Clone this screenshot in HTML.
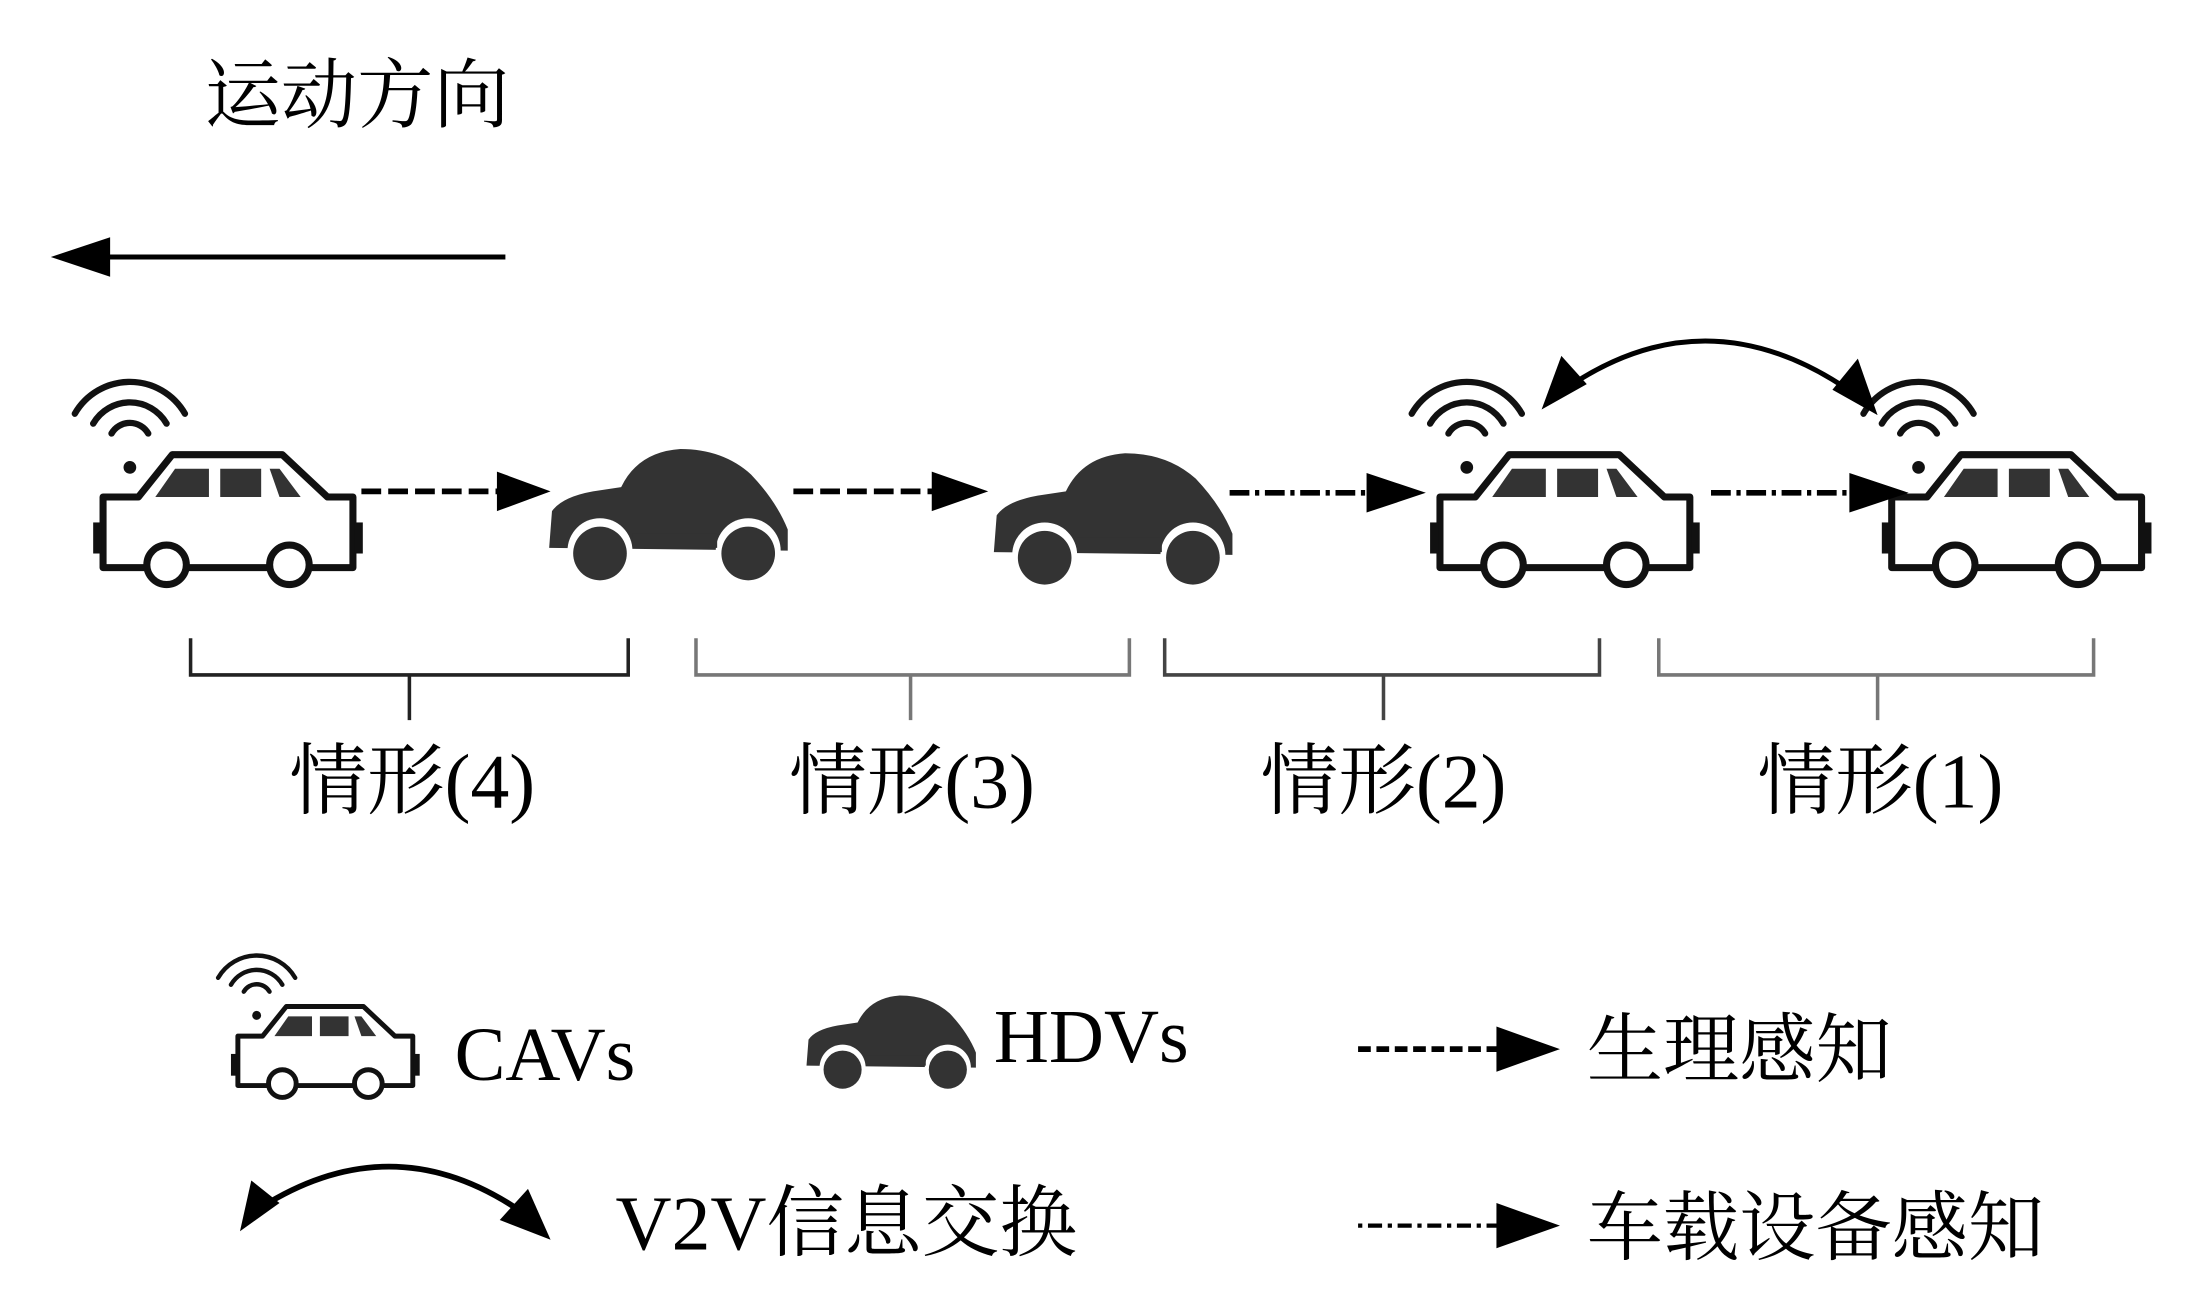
<!DOCTYPE html>
<html><head><meta charset="utf-8"><style>
html,body{margin:0;padding:0;background:#fff;width:2191px;height:1316px;overflow:hidden}
svg{display:block}
text{font-family:"Liberation Serif","Noto Serif CJK SC",serif;fill:#000}
</style></head><body>
<svg width="2191" height="1316" viewBox="0 0 1552 932" preserveAspectRatio="none" xmlns="http://www.w3.org/2000/svg">
<defs>
<g id="cav">
  <circle cx="92" cy="331" r="4.5" fill="#111"/>
  <g fill="none" stroke="#111" stroke-width="4.5" stroke-linecap="round">
    <path d="M79,307 A15,15 0 0 1 105,307"/>
    <path d="M66,300 A30,30 0 0 1 118,300"/>
    <path d="M53,293 A45,45 0 0 1 131,293"/>
  </g>
  <path d="M73,352 L98,352 L122,322 L200,322 L232,352 L250,352 L250,402 L73,402 Z" fill="#fff" stroke="#111" stroke-width="5" stroke-linejoin="round"/>
  <rect x="66" y="370" width="6" height="22" fill="#111"/>
  <rect x="251" y="370" width="6" height="22" fill="#111"/>
  <path d="M110,352 L124,332 L148,332 L148,352 Z" fill="#333"/>
  <path d="M156,332 L185,332 L185,352 L156,352 Z" fill="#333"/>
  <path d="M191,332 L198,332 L213,352 L198,352 Z" fill="#333"/>
  <circle cx="118" cy="400" r="14" fill="#fff" stroke="#111" stroke-width="5"/>
  <circle cx="205" cy="400" r="14" fill="#fff" stroke="#111" stroke-width="5"/>
</g>
<g id="hdv">
  <path d="M389,388 L391,362 Q398,352 420,348 L440,345 Q452,320 482,318 Q512,318 532,336 Q550,355 558,375 L558,390 Z" fill="#333"/>
  <circle cx="425" cy="390" r="23" fill="#fff"/>
  <circle cx="530" cy="390" r="23" fill="#fff"/>
  <circle cx="425" cy="392" r="19" fill="#333"/>
  <circle cx="530" cy="392" r="19" fill="#333"/>
  <rect x="448" y="378" width="60" height="10" fill="#333"/>
</g>
</defs>

<text x="145" y="86" font-size="54">运动方向</text>
<line x1="358" y1="182" x2="60" y2="182" stroke="#000" stroke-width="3.5"/>
<path d="M36,182 L78,168 L78,196 Z" fill="#000"/>

<use href="#cav"/>
<use href="#hdv"/>
<use href="#hdv" transform="translate(315,3)"/>
<use href="#cav" transform="translate(947,0)"/>
<use href="#cav" transform="translate(1267,0)"/>

<g stroke="#000" stroke-width="4" fill="none">
  <line x1="256" y1="348" x2="360" y2="348" stroke-dasharray="14,5"/>
  <line x1="562" y1="348" x2="665" y2="348" stroke-dasharray="14,5"/>
  <line x1="871" y1="349" x2="975" y2="349" stroke-dasharray="14,4,3,4"/>
  <line x1="1212" y1="349" x2="1315" y2="349" stroke-dasharray="14,4,3,4"/>
</g>
<g fill="#000">
  <path d="M352,334 L390,348 L352,362 Z"/>
  <path d="M660,334 L700,348 L660,362 Z"/>
  <path d="M968,335 L1010,349 L968,363 Z"/>
  <path d="M1310,335 L1352,349 L1310,363 Z"/>
</g>
<path d="M1108,276 Q1210,205 1315,280" fill="none" stroke="#000" stroke-width="3.5"/>
<path d="M1092,290 L1106,252 L1124,272 Z" fill="#000"/>
<path d="M1330,294 L1298,276 L1316,254 Z" fill="#000"/>

<g fill="none" stroke-width="2.5">
  <path d="M135,452 L135,478 L445,478 L445,452 M290,478 L290,510" stroke="#222"/>
  <path d="M493,452 L493,478 L800,478 L800,452 M645,478 L645,510" stroke="#777"/>
  <path d="M825,452 L825,478 L1133,478 L1133,452 M980,478 L980,510" stroke="#444"/>
  <path d="M1175,452 L1175,478 L1483,478 L1483,452 M1330,478 L1330,510" stroke="#777"/>
</g>
<g font-size="55" text-anchor="middle">
  <text x="292" y="572">情形(4)</text>
  <text x="646" y="572">情形(3)</text>
  <text x="980" y="572">情形(2)</text>
  <text x="1332" y="572">情形(1)</text>
</g>

<use href="#cav" transform="translate(165,675) scale(0.7) translate(-68,-268)"/>
<text x="322" y="765" font-size="54">CAVs</text>
<use href="#hdv" transform="translate(572,705) scale(0.71) translate(-390,-318)"/>
<text x="704" y="752" font-size="54">HDVs</text>
<line x1="962" y1="743" x2="1065" y2="743" stroke="#000" stroke-width="4" stroke-dasharray="9,4"/>
<path d="M1060,727 L1105,743 L1060,759 Z" fill="#000"/>
<text x="1124" y="762" font-size="54">生理感知</text>
<path d="M185,855 Q280,795 372,860" fill="none" stroke="#000" stroke-width="4"/>
<path d="M170,872 L178,836 L198,852 Z" fill="#000"/>
<path d="M390,878 L354,864 L374,842 Z" fill="#000"/>
<text x="436" y="885" font-size="55">V2V信息交换</text>
<line x1="962" y1="868" x2="1065" y2="868" stroke="#000" stroke-width="3" stroke-dasharray="3,4,10,4"/>
<path d="M1060,852 L1105,868 L1060,884 Z" fill="#000"/>
<text x="1124" y="888" font-size="54">车载设备感知</text>
</svg>
</body></html>
